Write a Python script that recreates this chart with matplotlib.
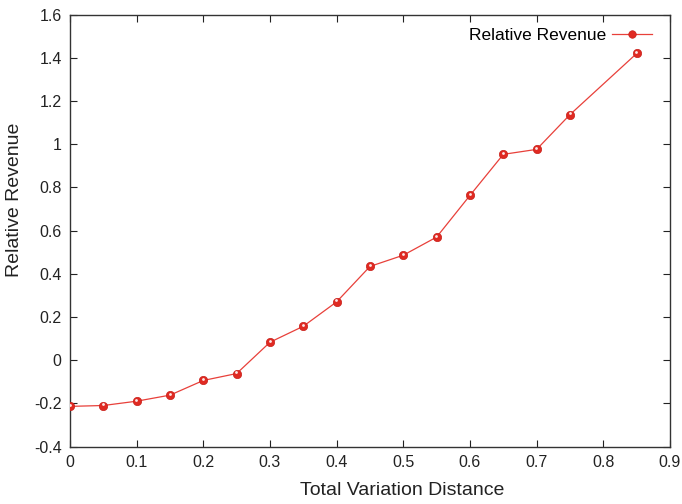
import matplotlib
matplotlib.use("Agg")
import matplotlib.pyplot as plt
import matplotlib.transforms as mtransforms

plt.rcParams['font.family'] = ['Liberation Sans', 'DejaVu Sans']

tvd = [0.0, 0.05, 0.1, 0.15, 0.2, 0.25, 0.3, 0.35, 0.4, 0.45, 0.5, 0.55, 0.6, 0.65, 0.7, 0.75, 0.85]
revenue = [-0.214, -0.21, -0.19, -0.162, -0.094, -0.062, 0.083, 0.157, 0.27, 0.434, 0.486, 0.57, 0.763, 0.953, 0.976, 1.137, 1.42]

xticks = [0, 0.1, 0.2, 0.3, 0.4, 0.5, 0.6, 0.7, 0.8, 0.9]
xlabels = ['0', '0.1', '0.2', '0.3', '0.4', '0.5', '0.6', '0.7', '0.8', '0.9']
yticks = [-0.4, -0.2, 0, 0.2, 0.4, 0.6, 0.8, 1, 1.2, 1.4, 1.6]
ylabels = ['-0.4', '-0.2', '0', '0.2', '0.4', '0.6', '0.8', '1', '1.2', '1.4', '1.6']

fig = plt.figure(figsize=(6.82, 5.04), dpi=100)
ax = fig.add_axes([0.1026, 0.114, 0.8798, 0.857])

line_color = '#e8403a'
marker_color = '#e02a22'
ax.plot(tvd, revenue, color=line_color, lw=0.9, marker='o', ms=6.0,
        markerfacecolor=marker_color, markeredgecolor='#c8201a', markeredgewidth=0.5,
        label='Relative Revenue', zorder=3)
# highlight on markers (slightly offset upward)
hl_trans = mtransforms.offset_copy(ax.transData, fig=fig, x=-0.2, y=1.0, units='points')
ax.plot(tvd, revenue, linestyle='none', marker='o', ms=2.0, transform=hl_trans,
        markerfacecolor='white', markeredgecolor='none', alpha=0.9, zorder=4)

ax.set_xlim(0, 0.9)
ax.set_ylim(-0.4, 1.6)
ax.set_xticks(xticks)
ax.set_xticklabels(xlabels)
ax.set_yticks(yticks)
ax.set_yticklabels(ylabels)
ax.tick_params(direction='in', top=True, right=True, length=5, width=0.8,
               labelsize=11.5, colors='#222222', pad=6)
for s in ax.spines.values():
    s.set_linewidth(1.0)
    s.set_color('#333333')

ax.set_xlabel('Total Variation Distance', fontsize=14, color='#222222')
ax.set_ylabel('Relative Revenue', fontsize=14, color='#222222')
ax.xaxis.set_label_coords(0.553, -0.082)
ax.yaxis.set_label_coords(-0.078, 0.572)

leg = ax.legend(loc='upper right', frameon=False, markerfirst=False,
                fontsize=12.5, handlelength=2.3, handletextpad=0.35, borderaxespad=0.3,
                markerscale=0.9, bbox_to_anchor=(0.99, 0.997))

fig.savefig('out.png', dpi=100)
